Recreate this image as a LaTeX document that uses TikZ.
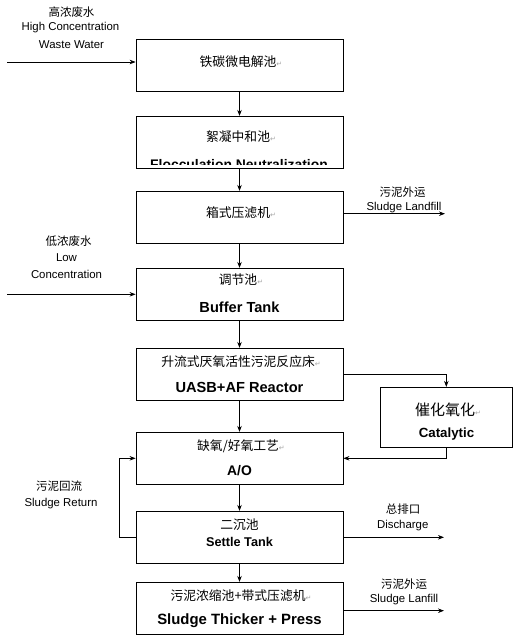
\documentclass[tikz,border=0pt]{standalone}
\usepackage{fontspec}
\setmainfont{Liberation Sans}
\newfontfamily\zhfont{Noto Sans CJK SC}
\newfontfamily\symfont{DejaVu Sans}
\usetikzlibrary{arrows.meta}
\newcommand{\rmark}{{\symfont\fontsize{7}{8}\selectfont\textcolor{gray!70}{↵}}}
\begin{document}
\begin{tikzpicture}[x=1pt,y=-1pt,
  box/.style={draw, line width=0.8pt, minimum width=207pt, minimum height=52pt, inner sep=0pt},
  arr/.style={-{Stealth[length=6pt,width=4.5pt]}, line width=0.7pt},
  zh/.style={inner sep=0pt, font=\zhfont\fontsize{12.8}{14}\selectfont},
  zhs/.style={inner sep=0pt, font=\zhfont\fontsize{11.5}{13}\selectfont},
  lab/.style={inner sep=0pt, font=\fontsize{11.4}{13}\selectfont},
  bf/.style={inner sep=0pt, font=\bfseries\fontsize{14.6}{16}\selectfont}
]
\useasboundingbox[fill=white] (0,0) rectangle (521,640);

% boxes
\node[box] (b1) at (239.5,65.5) {};
\node[box] (b2) at (239.5,142.3) {};
\node[box] (b3) at (239.5,217.3) {};
\node[box] (b4) at (239.5,294.3) {};
\node[box] (b5) at (239.5,374.3) {};
\node[box] (b6) at (239.5,458.3) {};
\node[box] (b7) at (239.5,537.3) {};
\node[box] (b8) at (239.5,608.3) {};
\node[box, minimum width=132pt, minimum height=60pt] (cat) at (446.3,417.3) {};

% box texts
\node[zh] (t1) at (241,62) {铁碳微电解池\rmark};
\node[zh] (t2) at (241,137) {絮凝中和池\rmark};
\begin{scope}
\clip (137,150) rectangle (342,164.5);
\node[bf, anchor=base, font=\bfseries\fontsize{13.9}{16}\selectfont] (t2e) at (239,169) {Flocculation Neutralization};
\end{scope}
\node[zh] (t3) at (241,213) {箱式压滤机\rmark};
\node[zh] (t4) at (241,280) {调节池\rmark};
\node[bf] (t4e) at (239.5,307) {Buffer Tank};
\node[zh] (t5) at (241,362) {升流式厌氧活性污泥反应床\rmark};
\node[bf] (t5e) at (239.5,387) {UASB+AF Reactor};
\node[zh] (t6) at (241,446.7) {缺氧/好氧工艺\rmark};
\node[bf, font=\bfseries\fontsize{13.9}{16}\selectfont] (t6e) at (239.5,471) {A/O};
\node[zh] (t7) at (239.5,524.3) {二沉池};
\node[bf, font=\bfseries\fontsize{12.7}{15}\selectfont] (t7e) at (239.5,542) {Settle Tank};
\node[zh] (t8) at (241,596) {污泥浓缩池+带式压滤机\rmark};
\node[bf, font=\bfseries\fontsize{14.9}{17}\selectfont] (t8e) at (239.5,621) {Sludge Thicker + Press};
\node[zh, font=\zhfont\fontsize{15}{17}\selectfont] (tc) at (448,410) {催化氧化\rmark};
\node[bf, font=\bfseries\fontsize{13.3}{16}\selectfont] (tce) at (446.5,434.3) {Catalytic};

% outside labels
\node[zhs] (l1a) at (71.5,11.7) {高浓废水};
\node[lab] (l1b) at (70.5,27.3) {High Concentration};
\node[lab] (l1c) at (71.5,44.3) {Waste Water};
\node[zhs] (l2a) at (68.5,241) {低浓废水};
\node[lab] (l2b) at (66.5,257.7) {Low};
\node[lab] (l2c) at (66.5,274.3) {Concentration};
\node[zhs] (l3a) at (402.7,192.3) {污泥外运};
\node[lab] (l3b) at (404,207.3) {Sludge Landfill};
\node[zhs] (l4a) at (59,486) {污泥回流};
\node[lab] (l4b) at (61,504) {Sludge Return};
\node[zhs] (l5a) at (403,509) {总排口};
\node[lab] (l5b) at (402.7,526) {Discharge};
\node[zhs] (l6a) at (404,584) {污泥外运};
\node[lab] (l6b) at (404,599.3) {Sludge Lanfill};

% connectors
\coordinate (in1) at (7,62);
\coordinate (in2) at (7,294.3);
\draw[arr] (in1) -- ([yshift=3.5pt]b1.west);
\draw[arr] (in2) -- (b4.west);
\draw[arr] (b1) -- (b2);
\draw[arr] (b2) -- (b3);
\draw[arr] (b3) -- (b4);
\draw[arr] (b4) -- (b5);
\draw[arr] (b5) -- (b6);
\draw[arr] (b6) -- (b7);
\draw[arr] (b7) -- (b8);
\coordinate (o1) at (445,213.7);
\draw[arr] ([yshift=3.6pt]b3.east) -- (o1);
\draw[arr] (b5.east) -| (cat.north);
\draw[arr] (cat.south) |- (b6.east);
\coordinate (ret) at (119.3,537.3);
\draw[arr] (b7.west) -- (ret) |- (b6.west);
\coordinate (o2) at (444,537.3);
\draw[arr] (b7.east) -- (o2);
\coordinate (o3) at (444,610.7);
\draw[arr] ([yshift=-2.4pt]b8.east) -- (o3);
\end{tikzpicture}
\end{document}
